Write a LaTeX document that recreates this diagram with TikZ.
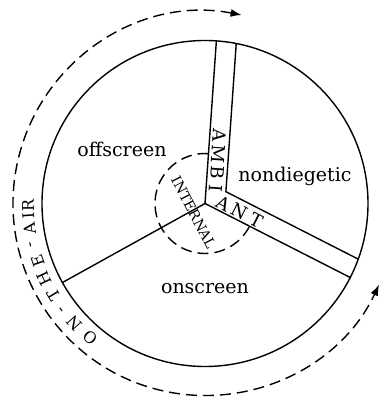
\documentclass[tikz,border=0pt]{standalone}
\usepackage{fontspec}
\setmainfont{DejaVu Serif}
\usepackage{tikz}
\usetikzlibrary{arrows.meta,calc}

\begin{document}
\begin{tikzpicture}[
    x=1pt, y=1pt,
    >={Latex[length=11pt,width=8pt]},
    every node/.style={inner sep=0pt},
    region/.style={font=\fontsize{19}{21}\selectfont},
    bandtext/.style={font=\fontsize{18}{19}\selectfont},
    rimtext/.style={font=\fontsize{16}{17}\selectfont},
    solidline/.style={line width=1.4pt},
    dashline/.style={line width=1.4pt, dash pattern=on 11pt off 6pt}
  ]
  \useasboundingbox (-205,-194.5) rectangle (173,203.5);

  % spokes and bands
  \coordinate (o)  at (0,0);
  \coordinate (c)  at (29.5:24);
  \coordinate (a1) at (86:163);
  \coordinate (a2) at (78.95:163);
  \coordinate (b1) at (-27:163);
  \coordinate (b2) at (-19.95:163);
  \coordinate (s1) at (209:163);

  \draw[solidline] (o) circle (163);
  \draw[solidline] (a1) -- (o) -- (b1);
  \draw[solidline] (a2) -- (c) -- (b2);
  \draw[solidline] (o) -- (s1);

  % internal ring and outer ring
  \draw[dashline] (86:50) arc[start angle=86, end angle=333, radius=50];
  \draw[dashline, <->] (79:192) arc[start angle=79, end angle=335, radius=192];

  \node[region] (offscreen)   at (-83,54)  {offscreen};
  \node[region] (nondiegetic) at (90,27)   {nondiegetic};
  \node[region] (onscreen)    at (0,-85)   {onscreen};

  \node[font=\fontsize{14}{15}\selectfont, rotate=-62.5] (internal) at (-11.5,-9) {INTERNAL};

  \foreach \ch/\d in {A/69, M/50, B/31.5, I/15.5}
    \node[bandtext, rotate=-94] (ambi\ch) at ($(86:\d)+(-4:10)$) {\ch};
  \foreach \ch/\d in {A/16, N/34, T/53}
    \node[bandtext, rotate=-27] (ant\ch) at ($(-27:\d)+(63:8.5)$) {\ch};

  \foreach \ch/\a [count=\i] in {O/229.5, N/222.5, -/216.5, T/211, H/205,
                                 E/199, -/193.5, A/188, I/184, R/180.5}
    \node[rimtext, rotate=\a-90] (air\i) at (\a:177) {\ch};
\end{tikzpicture}
\end{document}
